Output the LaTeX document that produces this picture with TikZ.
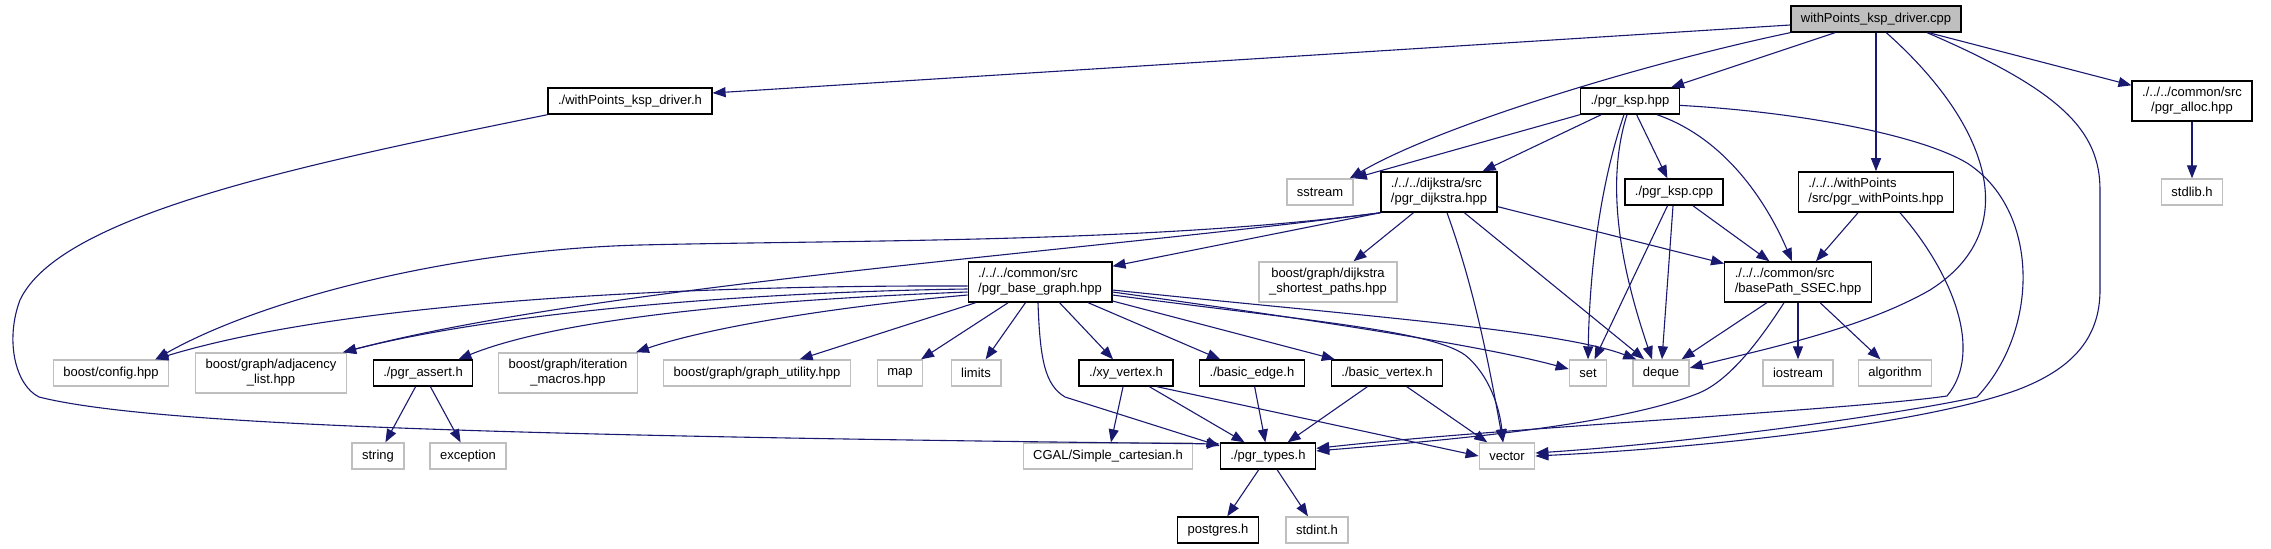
\documentclass[tikz,border=0pt]{standalone}
\usepackage{fontspec}
\setmainfont{Liberation Sans}
\usetikzlibrary{arrows.meta}

\definecolor{azulSeta}{HTML}{191970}
\definecolor{cinzaBorda}{HTML}{BFBFBF}

\begin{document}
\begin{tikzpicture}[
    x=1pt,
    y=-1pt,
    every node/.style={font=\fontsize{13}{15}\selectfont, inner xsep=10pt, inner ysep=6.5pt, minimum height=26pt},
    arquivo/.style={draw=black, line width=1.4pt, fill=white},
    externo/.style={draw=cinzaBorda, line width=1.4pt, fill=white},
    raiz/.style={arquivo, fill=cinzaBorda},
    seta/.style={draw=azulSeta, line width=1.1pt, -{Triangle[length=13pt, width=10pt]}}
]

\useasboundingbox (0,0) rectangle (2271,549);

% Arquivo analisado:
% nó raiz, no alto, preenchido de cinza.
\node[raiz] (driverCpp) at (1876,19) {withPoints\_ksp\_driver.cpp};

% Primeiro nível de inclusões:
\node[arquivo] (driverH) at (630,101) {./withPoints\_ksp\_driver.h};
\node[arquivo] (kspHpp) at (1630,101) {./pgr\_ksp.hpp};
\node[arquivo, align=center] (allocHpp) at (2192,101) {./../../common/src\\/pgr\_alloc.hpp};

% Segundo nível:
\node[externo] (stlSstream) at (1320,192) {sstream};
\node[arquivo, align=left] (dijkstraHpp) at (1439,192) {./../../dijkstra/src\\/pgr\_dijkstra.hpp};
\node[arquivo] (kspCpp) at (1674,192) {./pgr\_ksp.cpp};
\node[arquivo, align=left] (withPointsHpp) at (1876,192) {./../../withPoints\\/src/pgr\_withPoints.hpp};
\node[externo] (cStdlib) at (2192,192) {stdlib.h};

% Terceiro nível:
\node[arquivo, align=left] (baseGraph) at (1040,282) {./../../common/src\\/pgr\_base\_graph.hpp};
\node[externo, align=center] (dijkstraSP) at (1328,282) {boost/graph/dijkstra\\\_shortest\_paths.hpp};
\node[arquivo, align=left] (basePath) at (1798,282) {./../../common/src\\/basePath\_SSEC.hpp};

% Quarto nível:
% cabeçalhos do boost, da STL e do próprio projeto, numa só linha.
\node[externo] (boostConfig) at (111,373) {boost/config.hpp};
\node[externo, align=center] (adjList) at (271,373) {boost/graph/adjacency\\\_list.hpp};
\node[arquivo] (pgrAssert) at (423,373) {./pgr\_assert.h};
\node[externo, align=center] (iterMacros) at (568,373) {boost/graph/iteration\\\_macros.hpp};
\node[externo] (graphUtil) at (757,373) {boost/graph/graph\_utility.hpp};
\node[externo] (stlMap) at (900,373) {map};
\node[externo] (stlLimits) at (976,373) {limits};
\node[arquivo] (xyVertex) at (1126,373) {./xy\_vertex.h};
\node[arquivo] (basicEdge) at (1252,373) {./basic\_edge.h};
\node[arquivo] (basicVertex) at (1387,373) {./basic\_vertex.h};
\node[externo] (stlSet) at (1588,373) {set};
\node[externo] (stlDeque) at (1661,373) {deque};
\node[externo] (stlIostream) at (1798,373) {iostream};
\node[externo] (stlAlgorithm) at (1895,373) {algorithm};

% Quinto nível:
\node[externo] (stlString) at (378,456) {string};
\node[externo] (stlException) at (468,456) {exception};
\node[externo] (cgal) at (1108,456) {CGAL/Simple\_cartesian.h};
\node[arquivo] (pgrTypes) at (1268,456) {./pgr\_types.h};
\node[externo] (stlVector) at (1507,456) {vector};

% Último nível:
\node[arquivo] (postgres) at (1218,530) {postgres.h};
\node[externo] (cStdint) at (1317,530) {stdint.h};

% Inclusões diretas:
% setas retas entre centros de nós.
\foreach \origem/\destino in {driverCpp/kspHpp, driverCpp/withPointsHpp, driverCpp/allocHpp,
    kspHpp/dijkstraHpp, kspHpp/kspCpp, kspCpp/stlSet, kspCpp/stlDeque, kspCpp/basePath,
    withPointsHpp/basePath, allocHpp/cStdlib, dijkstraHpp/dijkstraSP, dijkstraHpp/stlDeque,
    dijkstraHpp/basePath, basePath/stlDeque, basePath/stlIostream, basePath/stlAlgorithm,
    baseGraph/graphUtil, baseGraph/stlMap, baseGraph/stlLimits, baseGraph/xyVertex,
    baseGraph/basicEdge, baseGraph/basicVertex, pgrAssert/stlString, pgrAssert/stlException,
    xyVertex/cgal, xyVertex/pgrTypes, basicEdge/pgrTypes, basicVertex/pgrTypes,
    basicVertex/stlVector, pgrTypes/postgres, pgrTypes/cStdint}
    \draw[seta] (\origem) -- (\destino);

% Setas do arquivo raiz:
% as longas contornam o grafo pela direita.
\draw[seta] ([yshift=-6pt]driverCpp.west) -- ([yshift=8pt]driverH.east);
\draw[seta] (driverCpp.south west) .. controls (1650,62) and (1440,125) .. ([xshift=-4pt]stlSstream.north east);
\draw[seta] (driverCpp.-53) .. controls (1990,125) and (2025,230) .. (1930,290)
    .. controls (1860,330) and (1760,350) .. (stlDeque.10);
\draw[seta] (driverCpp.-15.5) .. controls (2060,90) and (2100,130) .. (2100,190) -- (2100,290)
    .. controls (2100,340) and (2070,370) .. (2017,390)
    .. controls (1920,425) and (1700,448) .. (stlVector.east);

% Setas de pgr_ksp.hpp:
\draw[seta] (kspHpp.south west) -- (stlSstream.north east);
\draw[seta] ([xshift=-6pt]kspHpp.south) .. controls (1605,170) and (1590,250) .. (stlSet.north);
\draw[seta] ([xshift=-3pt]kspHpp.south) .. controls (1603,190) and (1625,280) .. ([xshift=-9pt]stlDeque.north);
\draw[seta] ([xshift=27pt]kspHpp.south) .. controls (1730,140) and (1770,210) .. ([xshift=-6pt]basePath.north);
\draw[seta] (kspHpp.-5) .. controls (1800,112) and (1920,135) .. (1967,163)
    .. controls (2040,210) and (2040,330) .. (1977,397)
    .. controls (1900,414) and (1700,442) .. ([yshift=3pt]stlVector.east);

% Arquivo de cabeçalho do driver:
% volta pela esquerda até pgr_types.h.
\draw[seta] (driverH.south west) .. controls (300,165) and (60,215) .. (20,300)
    .. controls (5,340) and (15,385) .. (39,397)
    .. controls (150,425) and (500,436) .. (pgrTypes.166);

% Setas que chegam a pgr_types.h pela direita:
\draw[seta] ([xshift=24pt]withPointsHpp.south) .. controls (1950,270) and (1985,350) .. (1947,396)
    .. controls (1850,410) and (1500,428) .. (pgrTypes.9);
\draw[seta] ([xshift=-14pt]basePath.south) .. controls (1760,340) and (1730,380) .. (1699,393)
    .. controls (1620,425) and (1450,440) .. (pgrTypes.6);

% Setas de pgr_dijkstra.hpp:
\draw[seta] (dijkstraHpp.south west) -- ([yshift=-5pt]baseGraph.north east);
\draw[seta] ([xshift=8pt]dijkstraHpp.south) .. controls (1475,290) and (1490,370) .. ([xshift=-4pt]stlVector.north);
\draw[seta] (dijkstraHpp.south west) .. controls (1150,243) and (850,240) .. (640,245)
    .. controls (450,250) and (260,300) .. ([xshift=-14pt]boostConfig.north east);
\draw[seta] (dijkstraHpp.south west) .. controls (1100,250) and (600,285) .. ([xshift=-4pt]adjList.north east);

% Setas de pgr_base_graph.hpp:
\draw[seta] ([yshift=-4pt]baseGraph.west) .. controls (700,285) and (350,300) .. ([xshift=-14pt]boostConfig.north east);
\draw[seta] ([yshift=-7pt]baseGraph.west) .. controls (750,292) and (500,312) .. ([xshift=-4pt]adjList.north east);
\draw[seta] ([yshift=-10pt]baseGraph.west) .. controls (760,300) and (560,318) .. ([xshift=-15pt]pgrAssert.north east);
\draw[seta] ([yshift=-13pt]baseGraph.west) .. controls (820,308) and (700,330) .. ([xshift=-2pt]iterMacros.north east);
\draw[seta] ([xshift=-2pt]baseGraph.south) .. controls (1040,360) and (1045,385) .. (1065,397) -- ([yshift=-2pt]pgrTypes.166);
\draw[seta] ([yshift=-8pt]baseGraph.east) .. controls (1350,315) and (1560,330) .. ([xshift=4pt]stlDeque.north west);
\draw[seta] ([yshift=-10pt]baseGraph.east) .. controls (1300,318) and (1480,345) .. ([yshift=4pt]stlSet.west);
\draw[seta] ([yshift=-13pt]baseGraph.east) .. controls (1300,320) and (1430,330) .. (1465,355)
    .. controls (1490,375) and (1500,410) .. ([xshift=-4pt]stlVector.north);

% Ponteiro do xy_vertex.h até vector:
\draw[seta] ([xshift=31pt]xyVertex.south) -- (stlVector.west);

\end{tikzpicture}
\end{document}
